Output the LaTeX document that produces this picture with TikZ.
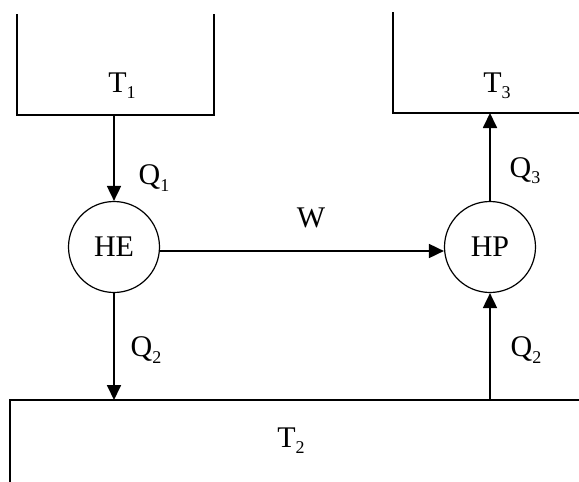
\documentclass[tikz,border=0pt]{standalone}
\usepackage{fontspec}
\setmainfont{Liberation Serif}
\usetikzlibrary{arrows.meta}
\newcommand{\sbs}[1]{\raisebox{-0.45ex}{\fontsize{18}{18}\selectfont #1}}
\begin{document}
\begin{tikzpicture}[x=1pt,y=-1pt,
  wall/.style={line width=1.8pt},
  flow/.style={line width=1.8pt,-{Triangle[length=15pt,width=14pt]}},
  dev/.style={circle,draw,line width=1.2pt,minimum size=91pt,inner sep=0pt,font=\fontsize{30}{30}\selectfont},
  lbl/.style={inner sep=0pt,font=\fontsize{30}{30}\selectfont}]
\useasboundingbox (0,0) rectangle (579,482);
% reservoirs
\draw[wall] (17,14) -- (17,115) -- (214,115) -- (214,14);
\draw[wall] (393,12) -- (393,113) -- (579,113);
\draw[wall] (579,400) -- (10,400) -- (10,482);
\node[lbl] (t1) at (122,86) {T\sbs{1}};
\node[lbl] (t3) at (497,86) {T\sbs{3}};
\node[lbl] (t2) at (291,441) {T\sbs{2}};
% devices
\node[dev] (he) at (114,247) {HE};
\node[dev] (hp) at (490,247) {HP};
% connector ends on reservoirs
\coordinate (r1) at (114,115);
\coordinate (r3) at (490,113);
\coordinate (r2a) at (114,400);
\coordinate (r2b) at (490,400);
% flows
\draw[flow] (r1) -- (he.north);
\draw[flow] (he.south) -- (r2a);
\draw[flow] (r2b) -- (hp.south);
\draw[flow] (hp.north) -- (r3);
\draw[flow] (he.east |- 0,251) -- (hp.west |- 0,251);
% labels
\node[lbl] (q1) at (154,178) {Q\sbs{1}};
\node[lbl] (q2a) at (146,350) {Q\sbs{2}};
\node[lbl] (q2b) at (526,350) {Q\sbs{2}};
\node[lbl] (q3) at (525,171) {Q\sbs{3}};
\node[lbl] (w) at (311,218) {W};
\end{tikzpicture}
\end{document}
